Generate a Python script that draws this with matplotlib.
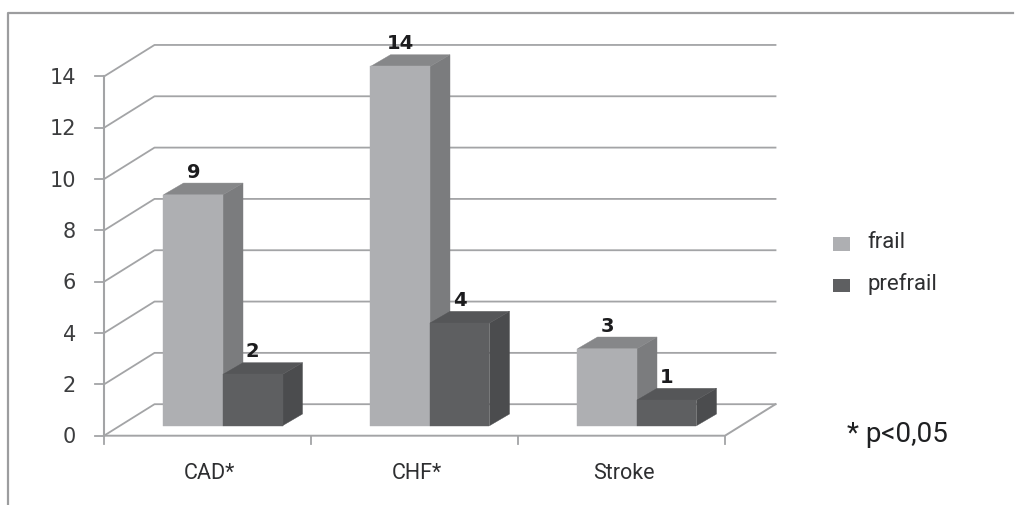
# python3 plot.py
import matplotlib
matplotlib.use('Agg')
import matplotlib.pyplot as plt
from matplotlib.patches import Patch, Polygon

categories = ['CAD*', 'CHF*', 'Stroke']
frail = [9, 14, 3]
prefrail = [2, 4, 1]
y_ticks = [0, 2, 4, 6, 8, 10, 12, 14]
series_names = ['frail', 'prefrail']
note = '* p<0,05'

W, H = 1016, 505
X0, CAT_PX = 104.0, 207.0		# pixel of first category edge, pixels per category
Y0, VAL_PX = 435.7, 25.66		# pixel of value 0, pixels per unit

# 3d offsets, in axis units
WALL_DX, WALL_DY = 50.5 / CAT_PX, 31.5 / VAL_PX
BAR_DX, BAR_DY = 20.0 / CAT_PX, 11.7 / VAL_PX
BAR_W = 59.5 / CAT_PX
BAR_X = 59.5 / CAT_PX			# front left corner of first bar inside a category
BAR_Y = 10.0 / VAL_PX			# raise of the bar base over the front axis

LINE = '#a3a4a6'
TEXT = '#3c3d3f'
FRAIL = ('#aeafb2', '#7b7c7e', '#868789')		# front, side, top
PREFRAIL = ('#5e5f61', '#4b4c4e', '#555658')

fig = plt.figure(figsize=(W / 100, H / 100), dpi=100)
ax = fig.add_axes([0, 0, 1, 1])
ax.set_xlim(-X0 / CAT_PX, (W - X0) / CAT_PX)
ax.set_ylim((Y0 - H) / VAL_PX, Y0 / VAL_PX)
ax.axis('off')


def draw_bar(x, value, colors):
	y = BAR_Y
	front = [(x, y), (x + BAR_W, y), (x + BAR_W, y + value), (x, y + value)]
	side = [(x + BAR_W, y), (x + BAR_W + BAR_DX, y + BAR_DY),
			(x + BAR_W + BAR_DX, y + value + BAR_DY), (x + BAR_W, y + value)]
	top = [(x, y + value), (x + BAR_W, y + value),
			(x + BAR_W + BAR_DX, y + value + BAR_DY), (x + BAR_DX, y + value + BAR_DY)]
	for pts, color in zip((side, top, front), (colors[1], colors[2], colors[0])):
		ax.add_patch(Polygon(pts, closed=True, facecolor=color, edgecolor=color, linewidth=0.3, zorder=3))
	ax.text(x + BAR_W / 2, y + value + BAR_DY + 11 / VAL_PX, str(value), ha='center', va='center',
			fontsize=14, fontweight='bold', color='#1c1c1e', zorder=5)


# outer frame, open on the right and bottom
ax.plot([7.8 / CAT_PX - X0 / CAT_PX] * 2 + [(W - 3) / CAT_PX - X0 / CAT_PX],
		[(Y0 - H) / VAL_PX, (Y0 - 12.8) / VAL_PX, (Y0 - 12.8) / VAL_PX], color='#9c9d9f', linewidth=1.6)

# gridlines on side and back wall
n = len(categories)
for v in y_ticks:
	ax.plot([0, WALL_DX, n + WALL_DX], [v, v + WALL_DY, v + WALL_DY], color=LINE, linewidth=1.3, zorder=1)
	ax.plot([-9 / CAT_PX, 0], [v, v], color=LINE, linewidth=1.3, zorder=1)
	ax.text(-28 / CAT_PX, v - 0.06, str(v), ha='right', va='center', fontsize=15, color=TEXT)

# axes and floor
ax.plot([0, 0], [0, y_ticks[-1]], color=LINE, linewidth=1.5, zorder=2)
ax.plot([0, n, n + WALL_DX], [0, 0, WALL_DY], color=LINE, linewidth=1.4, zorder=2)
for k in range(n + 1):
	ax.plot([k, k], [0, -8 / VAL_PX], color=LINE, linewidth=1.3, zorder=2)

for k, name in enumerate(categories):
	draw_bar(k + BAR_X, frail[k], FRAIL)
	draw_bar(k + BAR_X + BAR_W, prefrail[k], PREFRAIL)
	ax.text(k + 0.5 + 2 / CAT_PX, -38 / VAL_PX, name, ha='center', va='center', fontsize=15.5, family='Roboto',
			color='#2e2f31')

handles = [Patch(facecolor=FRAIL[0], edgecolor='none'), Patch(facecolor=PREFRAIL[0], edgecolor='none')]
leg = ax.legend(handles, series_names, loc='upper left', bbox_to_anchor=(813 / W, 1 - 216 / H), frameon=False,
		prop={'family': 'Roboto', 'size': 16}, labelcolor='#2e2f31', handlelength=0.77, handleheight=0.56,
		handletextpad=0.77, labelspacing=0.88, borderpad=0.4)
for t in leg.get_texts():
	t.set_y(4)		# labels sit a bit above the squares

ax.text((847 - X0) / CAT_PX, (Y0 - 434) / VAL_PX, note, ha='left', va='center', fontsize=20,
		family='Roboto', color='#1f2022')

fig.savefig('out.png', dpi=100)
